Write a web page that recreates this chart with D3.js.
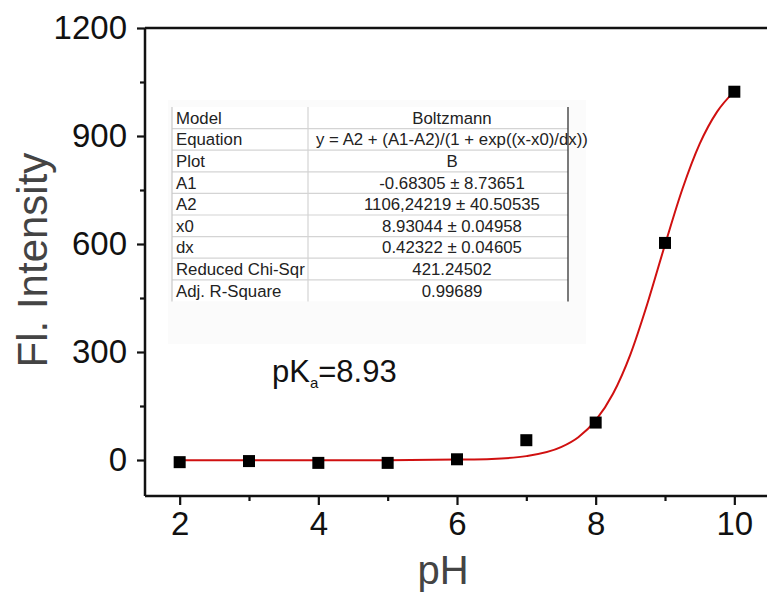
<!DOCTYPE html>
<html>
<head>
<meta charset="utf-8">
<script src="https://cdn.jsdelivr.net/npm/d3@7"></script>
<style>
  body { margin: 0; background: #fff; }
  text { font-family: "Liberation Sans", Arial, sans-serif; }
</style>
</head>
<body>
<div id="chart"></div>
<script>
// measured points
var phValues = [2, 3, 4, 5, 6, 7, 8, 9, 10]
var intensity = [-6, -3, -8, -8, 2, 55, 104, 603, 1023]

// red fitted curve
var fitPH = [2, 3, 4, 5, 6, 6.5, 7, 7.5, 7.75, 8, 8.25, 8.5, 8.75, 9, 9.25, 9.5, 9.75, 10]
var fitFI = [-0.7, -0.7, -0.7, -0.6, 1.1, 2.9, 10.8, 35.7, 63.4, 110, 184, 293, 437, 598, 752, 878, 967, 1024]

var xTicks = [2, 4, 6, 8, 10]
var xMinor = [3, 5, 7, 9]
var yTicks = [0, 300, 600, 900, 1200]
var yMinor = [150, 450, 750, 1050]

var tableLabels = ["Model", "Equation", "Plot", "A1", "A2", "x0", "dx", "Reduced Chi-Sqr", "Adj. R-Square"]
var tableValues = ["Boltzmann", "y = A2 + (A1-A2)/(1 + exp((x-x0)/dx))", "B",
  "-0.68305 \u00b1 8.73651", "1106,24219 \u00b1 40.50535", "8.93044 \u00b1 0.04958",
  "0.42322 \u00b1 0.04605", "421.24502", "0.99689"]

var svg = d3.select("#chart")
  .append("svg")
  .attr("width", 767)
  .attr("height", 593)

var x = d3.scaleLinear().domain([1.5, 10.5]).range([145, 769])
var y = d3.scaleLinear().domain([-100, 1200]).range([496, 28])

// faint panel behind the table
svg.append("rect")
  .attr("x", 168).attr("y", 100)
  .attr("width", 418).attr("height", 244)
  .style("fill", "#fbfbfb")

// table
var tx0 = 172, tx1 = 308, tx2 = 568, ty0 = 107, rowH = 21.6
var table = svg.append("g")
tableLabels.forEach(function (lab, i) {
  var yy = ty0 + i * rowH
  table.append("rect")
    .attr("x", tx0).attr("y", yy)
    .attr("width", tx2 - tx0).attr("height", rowH)
    .style("fill", "#fff")
  if (i > 0) {
    table.append("line")
      .attr("x1", tx0).attr("x2", tx2).attr("y1", yy).attr("y2", yy)
      .style("stroke", "#d4d4d4").style("stroke-width", 1.2)
  }
})
tableLabels.forEach(function (lab, i) {
  var yy = ty0 + i * rowH
  table.append("text")
    .attr("x", tx0 + 4).attr("y", yy + rowH / 2 + 6)
    .style("font-size", "16.8px").style("fill", "#222")
    .text(lab)
  table.append("text")
    .attr("x", (tx1 + tx2) / 2 + 14).attr("y", yy + rowH / 2 + 6)
    .attr("text-anchor", "middle")
    .style("font-size", "16.8px").style("fill", "#222")
    .text(tableValues[i])
})
table.append("line")
  .attr("x1", tx0).attr("x2", tx0).attr("y1", ty0).attr("y2", ty0 + 9 * rowH)
  .style("stroke", "#c8c8c8").style("stroke-width", 1.2)
table.append("line")
  .attr("x1", tx1).attr("x2", tx1).attr("y1", ty0).attr("y2", ty0 + 9 * rowH)
  .style("stroke", "#d4d4d4").style("stroke-width", 1.2)
table.append("line")
  .attr("x1", tx2).attr("x2", tx2).attr("y1", ty0).attr("y2", ty0 + 9 * rowH)
  .style("stroke", "#333").style("stroke-width", 1.3)

// pKa label
var pk = svg.append("text")
  .attr("x", 272).attr("y", 382)
  .style("font-size", "31px").style("fill", "#111")
pk.append("tspan").text("pK")
pk.append("tspan").attr("dy", 6).style("font-size", "15px").text("a")
pk.append("tspan").attr("dy", -6).text("=8.93")

// axes
var xAxis = svg.append("g")
  .attr("transform", "translate(0,496)")
  .call(d3.axisBottom(x).tickValues(xTicks).tickSize(9).tickPadding(7).tickFormat(d3.format("d")))
xAxis.append("g")
  .call(d3.axisBottom(x).tickValues(xMinor).tickSize(5).tickFormat(""))
  .select(".domain").remove()
xAxis.select(".domain").attr("d", "M145,0H767")

var yAxis = svg.append("g")
  .attr("transform", "translate(145,0)")
  .call(d3.axisLeft(y).tickValues(yTicks).tickSize(8).tickPadding(10).tickFormat(d3.format("d")))
yAxis.append("g")
  .call(d3.axisLeft(y).tickValues(yMinor).tickSize(5).tickFormat(""))
  .select(".domain").remove()
yAxis.select(".domain").attr("d", "M0,496V28")

svg.selectAll(".domain").style("stroke", "#111").style("stroke-width", 2.5)
svg.selectAll(".tick line").style("stroke", "#111").style("stroke-width", 2.2)
svg.selectAll(".tick text")
  .style("font-size", "33px").style("fill", "#111")
  .style("font-family", "'Liberation Sans', Arial, sans-serif")

// top frame line
svg.append("line")
  .attr("x1", 145).attr("x2", 767).attr("y1", y(1200)).attr("y2", y(1200))
  .style("stroke", "#111").style("stroke-width", 2.5)

// fitted curve
var line = d3.line()
  .x(function (d, i) { return x(fitPH[i]) })
  .y(function (d, i) { return y(fitFI[i]) })
  .curve(d3.curveMonotoneX)
svg.append("path")
  .datum(fitPH)
  .attr("d", line)
  .style("fill", "none")
  .style("stroke", "#d01010")
  .style("stroke-width", 2)

// points
var sq = 12
svg.selectAll(".pt")
  .data(phValues)
  .enter()
  .append("rect")
  .attr("class", "pt")
  .attr("x", function (d) { return x(d) - sq / 2 })
  .attr("y", function (d, i) { return y(intensity[i]) - sq / 2 })
  .attr("width", sq)
  .attr("height", sq)
  .style("fill", "#000")

// axis titles
svg.append("text")
  .attr("x", 443).attr("y", 584)
  .attr("text-anchor", "middle")
  .style("font-size", "40px").style("fill", "#444")
  .text("pH")

svg.append("text")
  .attr("transform", "translate(47,260) rotate(-90)")
  .attr("text-anchor", "middle")
  .style("font-size", "42px").style("fill", "#444")
  .text("Fl. Intensity")
</script>
</body>
</html>
